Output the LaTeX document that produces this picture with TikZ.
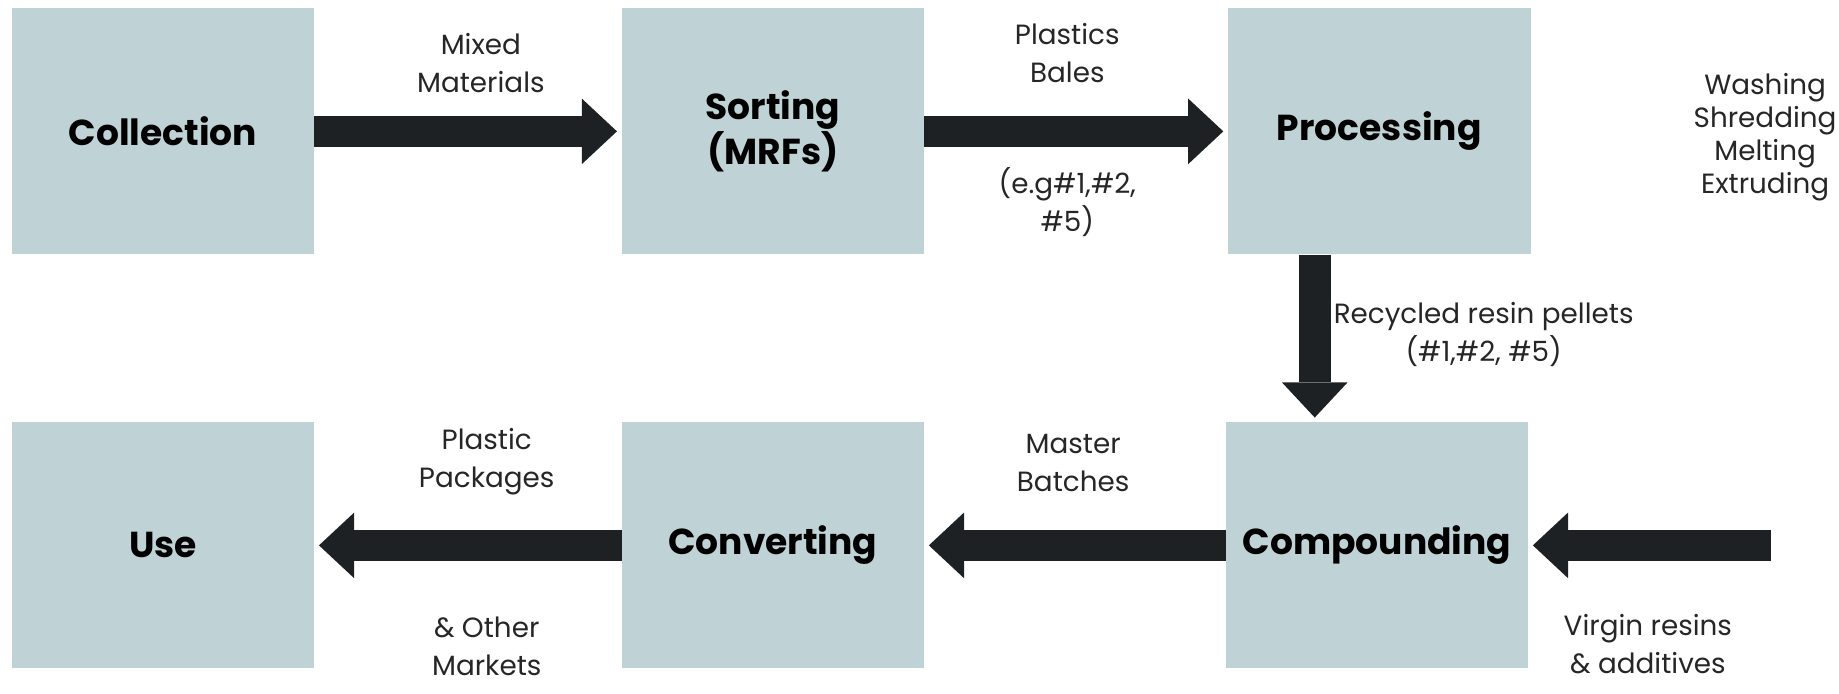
\documentclass[tikz,border=0pt]{standalone}
\usepackage{fontspec}
\setmainfont{Poppins}
\usetikzlibrary{arrows.meta}
\definecolor{boxfill}{RGB}{191,210,213}
\definecolor{arrowfill}{RGB}{30,33,35}

\begin{document}
\begin{tikzpicture}[x=0.02cm,y=-0.02cm,
	box/.style={fill=boxfill,minimum width=5.16cm,minimum height=4.2cm,inner sep=0pt,outer sep=0pt,align=center,font=\fontsize{17.5}{22}\selectfont\bfseries},
	flow/.style={draw=arrowfill,line width=0.54cm,-{Triangle[width=1.12cm,length=0.6cm,line width=0pt]},shorten >=0.08cm},
	lbl/.style={align=center,text=black!85,font=\fontsize{13.5}{18.5}\selectfont}]
	\useasboundingbox (0,0) rectangle (1568,591);

	\node[box] (coll) at (139,112) {Collection};
	\node[box] (sort) at (659,112) {Sorting\\(MRFs)};
	\node[box] (proc) at (1176,112) {Processing};
	\node[box] (use) at (139,465) {Use};
	\node[box] (conv) at (659,465) {Converting};
	\node[box] (comp) at (1174,465) {Compounding};

	\coordinate (pdown) at (1121,217);
	\coordinate (vin) at (1510,465);

	\draw[flow] (coll) -- (sort);
	\draw[flow] (sort) -- (proc);
	\draw[flow] (pdown) -- (pdown |- comp.north);
	\draw[flow] (vin) -- (comp);
	\draw[flow] (comp) -- (conv);
	\draw[flow] (conv) -- (use);

	\node[lbl] (mixed) at (410,54) {Mixed\\Materials};
	\node[lbl] (bales) at (910,45) {Plastics\\Bales};
	\node[lbl] (eg) at (910,172) {(e.g\#1,\#2,\\\#5)};
	\node[lbl,font=\fontsize{13.5}{16}\selectfont] (steps) at (1505,117) {Washing\\Shredding\\Melting\\Extruding};
	\node[lbl] (pellets) at (1265,285) {Recycled resin pellets\\(\#1,\#2, \#5)};
	\node[lbl] (pack) at (415,394) {Plastic\\Packages};
	\node[lbl] (other) at (415,551) {\& Other\\Markets};
	\node[lbl] (master) at (915,395) {Master\\Batches};
	\node[lbl] (virgin) at (1405,549) {Virgin resins\\\& additives};
\end{tikzpicture}
\end{document}
